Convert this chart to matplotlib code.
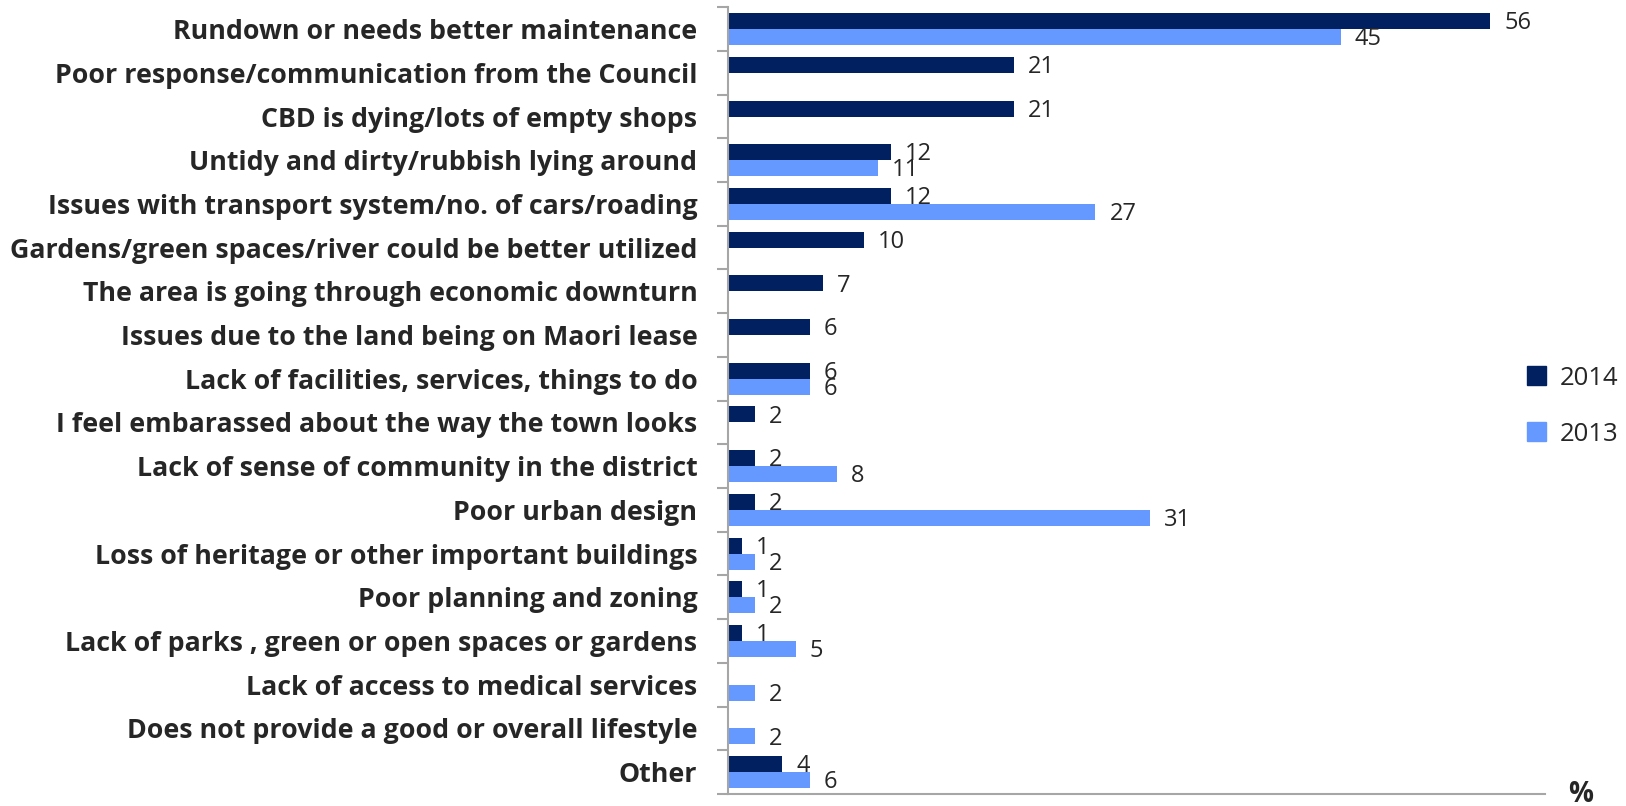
import numpy as np
import matplotlib.pyplot as plt
from matplotlib.patches import Patch

categories = [
    'Rundown or needs better maintenance',
    'Poor response/communication from the Council',
    'CBD is dying/lots of empty shops',
    'Untidy and dirty/rubbish lying around',
    'Issues with transport system/no. of cars/roading',
    'Gardens/green spaces/river could be better utilized',
    'The area is going through economic downturn',
    'Issues due to the land being on Maori lease',
    'Lack of facilities, services, things to do',
    'I feel embarassed about the way the town looks',
    'Lack of sense of community in the district',
    'Poor urban design',
    'Loss of heritage or other important buildings',
    'Poor planning and zoning',
    'Lack of parks , green or open spaces or gardens',
    'Lack of access to medical services',
    'Does not provide a good or overall lifestyle',
    'Other',
]
nan = np.nan
values_2014 = [56, 21, 21, 12, 12, 10, 7, 6, 6, 2, 2, 2, 1, 1, 1, nan, nan, 4]
values_2013 = [45, nan, nan, 11, 27, nan, nan, nan, 6, nan, 8, 31, 2, 2, 5, 2, 2, 6]

color_2014 = '#002060'
color_2013 = '#6699ff'
grey = '#a6a6a6'

plt.rcParams['font.family'] = ['Open Sans', 'DejaVu Sans']

fig = plt.figure(figsize=(16.26, 8.06), dpi=100)
ax = fig.add_axes([0.4477, 0.015, 0.5023, 0.976])

y = np.arange(len(categories))
h = 0.366
ax.barh(y - h / 2, values_2014, height=h, color=color_2014)
ax.barh(y + h / 2, values_2013, height=h, color=color_2013)

# value labels next to each bar
for i in range(len(categories)):
    for vals, off in ((values_2014, -h / 2), (values_2013, h / 2)):
        v = vals[i]
        if not np.isnan(v):
            ax.annotate(f'{v:g}', (v, i + off + 0.05), xytext=(10, 0),
                        textcoords='offset points', va='center', ha='left',
                        fontsize=17, color='#262626')

ax.set_xlim(0, 60)
ax.set_ylim(len(categories) - 0.5, -0.5)

ax.set_yticks(np.arange(len(categories) + 1) - 0.5)
ax.set_yticklabels([])
ax.set_yticks(y, minor=True)
ax.set_yticklabels(categories, minor=True, fontsize=19.3, fontweight='bold', color='#262626')
ax.tick_params(axis='y', which='major', length=8, color=grey, width=1.5)
ax.tick_params(axis='y', which='minor', length=0, pad=22)
ax.set_xticks([])

for s in ['top', 'right']:
    ax.spines[s].set_visible(False)
for s in ['left', 'bottom']:
    ax.spines[s].set_color(grey)
    ax.spines[s].set_linewidth(1.5)

fig.text(0.972, -0.004, '%', fontsize=20, fontweight='bold', color='#262626', ha='center', va='bottom')

handles = [Patch(color=color_2014, label='2014'), Patch(color=color_2013, label='2013')]
fig.legend(handles=handles, loc='center left', bbox_to_anchor=(0.925, 0.496), frameon=False,
           fontsize=18.5, handlelength=0.75, handleheight=0.75, handletextpad=0.5, labelspacing=1.2,
           labelcolor='#262626')

fig.savefig('out.png', dpi=100)
